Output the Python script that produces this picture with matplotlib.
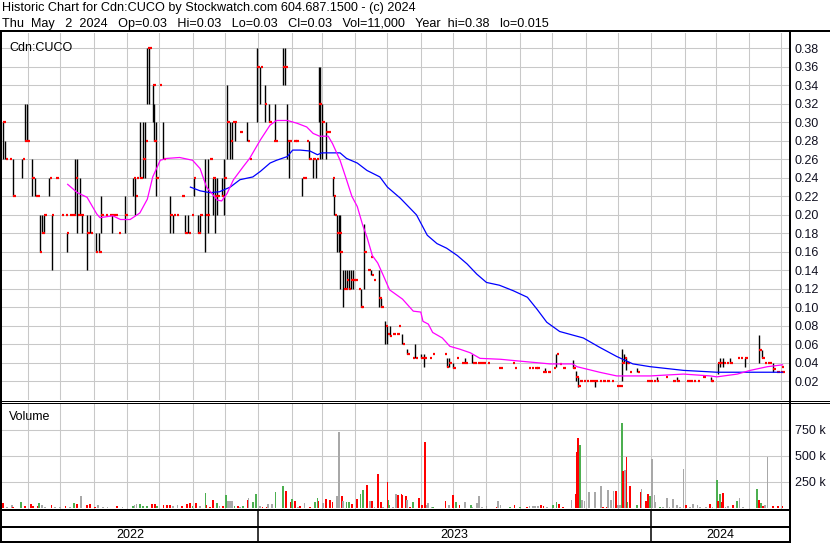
import numpy as np
import pandas as pd
import matplotlib
matplotlib.use('Agg')
import matplotlib.pyplot as plt
import matplotlib.dates as mdates
from matplotlib.lines import Line2D
from matplotlib.ticker import FormatStrFormatter, FuncFormatter

plt.rcParams['font.family'] = ['Liberation Sans', 'DejaVu Sans']

# all days are counted from this date
start = pd.Timestamp('2022-05-08')

title_1 = 'Historic Chart for Cdn:CUCO by Stockwatch.com 604.687.1500 - (c) 2024'
title_2 = ('Thu  May   2  2024   Op=0.03   Hi=0.03   Lo=0.03   Cl=0.03   '
           'Vol=11,000   Year  hi=0.38   lo=0.015')
symbol = 'Cdn:CUCO'
years = ['2022', '2023', '2024']

# daily price bars (day, high, low, close)
price_day = [1, 3, 7, 10, 19, 21, 23, 28, 31, 33,
             35, 37, 39, 44, 46, 50, 55, 59, 60, 63,
             66, 68, 70, 72, 74, 79, 82, 87, 90, 92,
             96, 100, 102, 105, 108, 114, 122, 124, 125, 128,
             131, 133, 135, 137, 140, 141, 143, 146, 150, 156,
             159, 162, 167, 170, 173, 176, 178, 182, 184, 189,
             191, 193, 196, 198, 200, 204, 206, 209, 212, 214,
             216, 221, 228, 230, 237, 240, 244, 248, 252, 254,
             261, 263, 265, 267, 271, 273, 279, 281, 283, 285,
             289, 292, 294, 295, 297, 301, 303, 307, 308, 309,
             311, 313, 314, 317, 319, 320, 322, 324, 326, 328,
             331, 333, 334, 336, 340, 342, 343, 345, 350, 352,
             356, 358, 360, 363, 367, 368, 372, 376, 381, 384,
             389, 392, 397, 400, 411, 413, 415, 419, 422, 427,
             430, 437, 439, 442, 445, 447, 451, 461, 463, 474,
             476, 489, 492, 495, 497, 502, 504, 507, 512, 515,
             518, 521, 530, 531, 533, 535, 537, 540, 543, 546,
             549, 551, 555, 558, 562, 566, 571, 574, 576, 578,
             580, 581, 583, 590, 599, 602, 605, 608, 616, 623,
             627, 636, 639, 642, 646, 651, 658, 659, 665, 667,
             670, 673, 676, 683, 686, 690, 703, 706, 708, 711,
             713, 716, 720, 723, 724, 725]
price_high = [.30, .28, .26, .26, .26, .32, .32, .26, .24, .22,
              .20, .20, .20, .24, .20, .24, .20, .20, .18, .20,
              .20, .26, .26, .24, .20, .20, .20, .18, .18, .22,
              .20, .20, .20, .20, .18, .22, .24, .24, .24, .30,
              .30, .30, .38, .38, .34, .32, .30, .34, .30, .22,
              .20, .20, .22, .20, .20, .20, .24, .20, .20, .26,
              .26, .26, .24, .24, .24, .24, .26, .34, .30, .30,
              .30, .29, .30, .26, .38, .36, .34, .32, .28, .32,
              .38, .38, .32, .28, .28, .28, .24, .24, .28, .28,
              .26, .26, .36, .36, .32, .30, .29, .24, .22, .20,
              .20, .20, .20, .14, .14, .14, .14, .14, .14, .13,
              .12, .12, .10, .19, .14, .155, .14, .13, .14, .11,
              .085, .08, .08, .071, .071, .08, .071, .055, .045, .061,
              .05, .05, .045, .05, .05, .045, .045, .04, .045, .04,
              .045, .05, .04, .04, .04, .04, .04, .035, .035, .04,
              .035, .035, .035, .035, .035, .03, .035, .03, .035, .05,
              .039, .035, .043, .035, .031, .025, .02, .02, .02, .02,
              .02, .02, .02, .02, .02, .02, .015, .015, .055, .05,
              .046, .04, .03, .035, .02, .02, .02, .025, .025, .02,
              .025, .02, .02, .02, .02, .025, .02, .025, .04, .045,
              .045, .04, .045, .045, .045, .045, .07, .054, .04, .04,
              .04, .04, .03, .03, .036, .03]
price_low = [.26, .26, .26, .22, .24, .28, .28, .22, .22, .22,
             .16, .18, .18, .22, .14, .24, .20, .20, .16, .20,
             .20, .20, .18, .20, .18, .14, .18, .16, .16, .18,
             .20, .20, .18, .20, .18, .18, .22, .20, .24, .24,
             .24, .24, .32, .32, .30, .28, .22, .34, .26, .18,
             .18, .20, .22, .18, .18, .20, .22, .18, .18, .16,
             .18, .26, .20, .18, .20, .22, .20, .26, .26, .26,
             .28, .29, .28, .26, .30, .32, .30, .30, .28, .28,
             .34, .34, .26, .24, .28, .28, .22, .24, .28, .26,
             .24, .24, .30, .26, .26, .26, .29, .22, .20, .20,
             .16, .16, .12, .10, .12, .12, .12, .12, .12, .13,
             .12, .10, .10, .12, .14, .155, .135, .13, .10, .10,
             .06, .06, .069, .071, .071, .08, .06, .05, .045, .045,
             .045, .036, .045, .05, .05, .036, .036, .035, .045, .04,
             .04, .04, .04, .04, .04, .04, .04, .035, .035, .04,
             .035, .035, .035, .035, .035, .03, .03, .03, .035, .036,
             .039, .035, .035, .035, .02, .014, .02, .02, .02, .02,
             .02, .014, .02, .02, .02, .02, .015, .015, .02, .04,
             .032, .04, .03, .03, .02, .02, .02, .02, .025, .02,
             .02, .02, .02, .02, .02, .025, .02, .02, .028, .036,
             .036, .04, .04, .045, .045, .036, .04, .045, .04, .04,
             .04, .03, .03, .03, .036, .03]
price_close = [.30, .26, .26, .22, .26, .28, .28, .24, .22, .22,
               .16, .18, .20, .24, .20, .24, .20, .20, .18, .20,
               .20, .24, .20, .20, .20, .18, .18, .16, .16, .20,
               .20, .20, .20, .20, .18, .20, .24, .22, .24, .24,
               .26, .28, .38, .38, .34, .28, .24, .34, .26, .20,
               .20, .20, .22, .18, .18, .20, .24, .18, .20, .20,
               .20, .26, .24, .22, .22, .22, .24, .30, .28, .30,
               .30, .29, .28, .26, .36, .36, .32, .30, .28, .28,
               .36, .36, .28, .28, .28, .28, .24, .24, .28, .26,
               .26, .26, .32, .32, .30, .29, .29, .24, .22, .20,
               .18, .18, .16, .12, .12, .13, .12, .13, .13, .13,
               .12, .10, .10, .16, .14, .155, .135, .13, .11, .10,
               .08, .071, .069, .071, .071, .08, .06, .05, .045, .045,
               .045, .045, .045, .05, .05, .036, .04, .035, .045, .04,
               .04, .04, .04, .04, .04, .04, .04, .035, .035, .04,
               .035, .035, .035, .035, .035, .03, .03, .03, .035, .05,
               .039, .035, .035, .035, .025, .015, .02, .02, .02, .02,
               .02, .02, .02, .02, .02, .02, .015, .015, .04, .045,
               .04, .04, .03, .03, .02, .02, .02, .02, .025, .02,
               .02, .02, .02, .02, .02, .025, .02, .02, .04, .04,
               .04, .04, .04, .045, .045, .045, .054, .045, .04, .04,
               .04, .034, .03, .03, .036, .03]

# moving averages
fast_day = [61, 70, 79, 88, 91, 103, 110, 119, 128, 135,
            140, 147, 153, 165, 177, 184, 190, 200, 204, 209,
            215, 224, 230, 240, 249, 255, 265, 274, 283, 289,
            295, 303, 307, 314, 320, 325, 330, 335, 339, 344,
            349, 354, 360, 372, 382, 389, 391, 396, 400, 409,
            416, 425, 435, 444, 463, 481, 509, 530, 534, 555,
            571, 602, 633, 658, 664, 683, 695, 711, 725]
fast_ma = [.233, .224, .219, .201, .197, .199, .195, .195, .202, .217,
           .241, .259, .261, .262, .259, .250, .230, .216, .215, .223,
           .238, .252, .261, .281, .297, .302, .302, .299, .295, .288,
           .285, .285, .277, .259, .238, .220, .209, .189, .176, .156,
           .148, .135, .119, .109, .096, .095, .085, .082, .073, .067,
           .058, .055, .051, .045, .044, .042, .039, .039, .036, .030,
           .026, .026, .028, .026, .025, .028, .032, .036, .038]
slow_day = [175, 184, 193, 202, 212, 221, 233, 240, 249, 255,
            265, 270, 277, 286, 293, 297, 314, 320, 330, 339,
            351, 358, 370, 385, 395, 404, 413, 423, 432, 441,
            450, 462, 475, 488, 497, 506, 518, 540, 555, 571,
            586, 602, 633, 664, 695, 725]
slow_ma = [.230, .226, .224, .225, .230, .238, .241, .247, .256, .259,
           .263, .270, .270, .269, .265, .267, .267, .261, .256, .248,
           .241, .230, .218, .200, .178, .169, .164, .156, .147, .136,
           .127, .124, .118, .111, .098, .084, .074, .067, .057, .047,
           .039, .036, .032, .030, .030, .030]

# daily volume in thousands, bar colour code: r = down, g = up, n = unchanged
vol_day = [1, 5, 9, 10, 18, 21, 27, 29, 33, 34,
           37, 40, 46, 49, 54, 59, 63, 67, 70, 73,
           79, 82, 86, 89, 94, 98, 107, 112, 122, 123,
           125, 128, 131, 135, 139, 142, 144, 150, 153, 156,
           159, 163, 167, 172, 175, 177, 180, 184, 189, 190,
           193, 196, 200, 202, 205, 208, 210, 212, 214, 216,
           219, 221, 224, 228, 229, 233, 236, 240, 242, 246,
           247, 251, 254, 261, 264, 268, 269, 272, 275, 277,
           281, 286, 291, 293, 294, 298, 301, 305, 307, 311,
           313, 316, 317, 320, 322, 325, 330, 333, 335, 339,
           342, 344, 346, 349, 352, 354, 358, 359, 360, 363,
           366, 368, 371, 372, 375, 376, 379, 382, 387, 390,
           393, 395, 396, 399, 400, 412, 415, 419, 422, 425,
           430, 436, 437, 441, 443, 446, 450, 460, 461, 463,
           472, 476, 481, 488, 490, 493, 495, 498, 501, 503,
           506, 512, 515, 517, 521, 529, 533, 534, 535, 537,
           539, 541, 545, 551, 556, 558, 562, 563, 566, 568,
           570, 572, 574, 576, 577, 579, 580, 581, 583, 590,
           593, 594, 598, 600, 602, 604, 606, 607, 611, 614,
           618, 620, 623, 627, 630, 633, 635, 639, 642, 646,
           648, 654, 658, 660, 664, 665, 667, 669, 670, 672,
           674, 679, 683, 685, 688, 701, 703, 705, 707, 709,
           711, 716, 721, 725]
vol_k = [52, 12, 28, 12, 53, 19, 37, 19, 22, 43,
         28, 12, 28, 10, 10, 19, 12, 43, 37, 112,
         28, 37, 12, 28, 12, 10, 19, 10, 19, 28,
         37, 37, 19, 19, 37, 37, 19, 28, 28, 28,
         19, 28, 19, 37, 43, 19, 43, 19, 140, 28,
         12, 74, 43, 19, 19, 124, 62, 62, 62, 19,
         19, 12, 19, 74, 93, 53, 130, 22, 12, 12,
         37, 37, 149, 214, 167, 53, 81, 68, 12, 19,
         46, 12, 53, 99, 68, 43, 81, 74, 53, 115,
         725, 112, 68, 53, 53, 37, 81, 130, 174, 223,
         62, 62, 12, 326, 53, 12, 248, 74, 28, 12,
         130, 124, 130, 124, 115, 74, 12, 53, 99, 31,
         633, 28, 43, 10, 10, 62, 28, 121, 53, 28,
         53, 28, 12, 43, 112, 10, 19, 10, 62, 28,
         10, 28, 10, 10, 19, 19, 19, 19, 28, 19,
         12, 28, 53, 37, 12, 74, 130, 540, 670, 605,
         74, 62, 155, 155, 214, 10, 12, 174, 74, 161,
         167, 28, 28, 810, 353, 363, 484, 53, 214, 28,
         155, 183, 62, 130, 112, 465, 121, 53, 10, 10,
         99, 12, 81, 28, 12, 372, 28, 12, 37, 28,
         12, 10, 37, 10, 266, 62, 130, 53, 146, 10,
         19, 28, 62, 93, 10, 177, 74, 46, 19, 28,
         484, 19, 19, 19]
vol_code = ('rnnrgrrrrg' 'nnrnnrngrn' 'rrrnnnrngn' 'ngggrrgrrr'
            'nnrrrgrngr' 'rrgnrgnnng' 'rngrnggnrr' 'nnggrrgrnr'
            'nrggrnrrrn' 'nrnggrrggr' 'nrnrrnrggn' 'nrrrrnrgrr'
            'rnnngrnrgr' 'ngnnnnnrnn' 'grgrnnnnrr' 'nggrrnrrrg'
            'nnnnnrrnnn' 'rnngrnrgrg' 'rnrrgnnngn' 'nnnnnnrnnn'
            'nnrngrgrrn' 'nrgnngrgrn' 'nrrr')

vol_colors = {'r': '#ff0000', 'g': '#4caf50', 'n': '#a8a8a8'}

W, H = 830, 543
fig = plt.figure(figsize=(W / 100, H / 100), dpi=100)
fig.patch.set_facecolor('white')


def box(left, top, right, bottom):
    # pixel box -> figure fraction
    return [left / W, 1 - bottom / H, (right - left) / W, (bottom - top) / H]


def frame_line(x0, y0, x1, y1, px=2.0):
    fig.add_artist(Line2D([x0 / W, x1 / W], [1 - y0 / H, 1 - y1 / H],
                          color='black', lw=px * 0.72, solid_capstyle='butt'))


x_start = mdates.date2num(start)
x_end = x_start + 731
months = mdates.date2num(pd.date_range('2022-06-01', '2024-05-01', freq='MS'))
year_starts = mdates.date2num(pd.to_datetime(['2023-01-01', '2024-01-01']))


def to_x(days):
    return x_start + np.asarray(days, dtype=float)


def style_panel(ax):
    ax.set_xlim(x_start, x_end)
    ax.set_xticks(months)
    ax.tick_params(axis='x', length=0, labelbottom=False)
    ax.yaxis.tick_right()
    ax.tick_params(axis='y', length=0, pad=4, labelsize=9, labelcolor='#101020')
    ax.grid(True, color='#c8c8c8', lw=0.75)
    ax.set_axisbelow(True)
    for s in ax.spines.values():
        s.set_visible(False)


# price panel
ax = fig.add_axes(box(2, 33, 789, 400))
style_panel(ax)
ax.set_ylim(0.0, 0.3965)
ax.set_yticks(np.arange(0.02, 0.381, 0.02))
ax.yaxis.set_major_formatter(FormatStrFormatter('%.2f'))

px = to_x(price_day)
ax.vlines(px, price_low, price_high, color='black', lw=1.0)
ax.hlines(price_close, px + 0.3, px + 2.6, color='#ff0000', lw=1.6)
ax.plot(to_x(slow_day), slow_ma, color='#0000ff', lw=0.9)
ax.plot(to_x(fast_day), fast_ma, color='#ff00ff', lw=0.9)
ax.text(0.009, 0.975, symbol, transform=ax.transAxes, fontsize=9, va='top', ha='left')

# volume panel
av = fig.add_axes(box(2, 403.5, 789, 509))
style_panel(av)
av.set_ylim(-10000, 1000000)
av.set_yticks([250000, 500000, 750000])
av.yaxis.set_major_formatter(FuncFormatter(lambda v, pos: f'{int(v / 1000)} k'))
av.bar(to_x(vol_day), np.array(vol_k) * 1000, width=1.7,
       color=[vol_colors[c] for c in vol_code], linewidth=0)
av.text(0.009, 0.93, 'Volume', transform=av.transAxes, fontsize=9, va='top', ha='left')

# year strip
ay = fig.add_axes(box(2, 527, 789, 542))
ay.set_xlim(x_start, x_end)
ay.set_ylim(0, 1)
ay.axis('off')
edges = [x_start] + list(year_starts) + [x_end]
for i, yr in enumerate(years):
    ay.text((edges[i] + edges[i + 1]) / 2, 0.45, yr, ha='center', va='center', fontsize=9)

ax_mid = fig.add_axes(box(2, 510, 789, 542))
ax_mid.set_xlim(x_start, x_end)
ax_mid.set_ylim(0, 1)
ax_mid.axis('off')
for xs in year_starts:
    ax_mid.axvline(xs, color='black', lw=1.1)

# frame
frame_line(0, 31, 830, 31)
frame_line(1, 31, 1, 543)
frame_line(790, 31, 790, 543)
frame_line(0, 400.9, 830, 400.9, 1)
frame_line(0, 402.8, 830, 402.8, 1)
frame_line(0, 510, 790, 510)
frame_line(0, 526.5, 790, 526.5)
frame_line(0, 542, 790, 542)

fig.text(2 / W, 1 - 11.3 / H, title_1, fontsize=9.1, va='baseline', ha='left')
fig.text(2 / W, 1 - 27.3 / H, title_2, fontsize=9.1, va='baseline', ha='left')

fig.savefig('out.png', dpi=100, facecolor='white')
